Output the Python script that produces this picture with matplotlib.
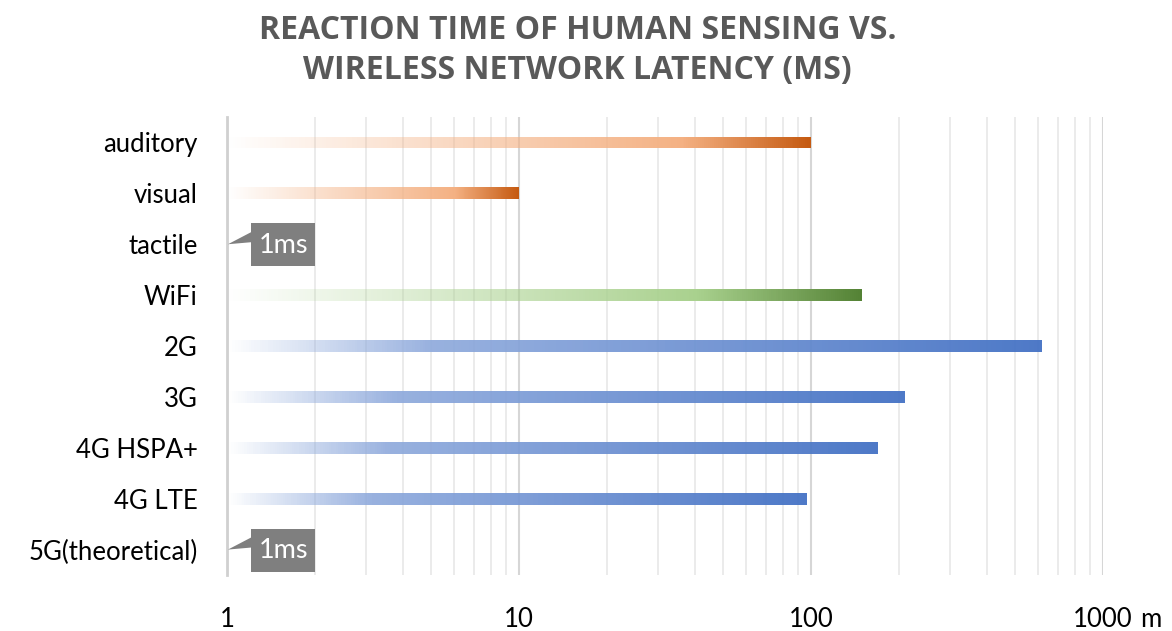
import numpy as np
import matplotlib
matplotlib.use("Agg")
import matplotlib.pyplot as plt
import matplotlib.transforms as mtransforms
from matplotlib.colors import LinearSegmentedColormap, to_rgba
from matplotlib.patches import Polygon, Rectangle
from matplotlib.ticker import LogLocator, NullFormatter

# ---- data -------------------------------------------------------------
categories = ["auditory", "visual", "tactile", "WiFi", "2G", "3G",
              "4G HSPA+", "4G LTE", "5G(theoretical)"]
latency_ms = [100, 10, 1, 150, 620, 210, 170, 97, 1]
groups = ["human", "human", "human", "wifi", "cellular", "cellular",
          "cellular", "cellular", "cellular"]
x_ticks = [1, 10, 100, 1000]
x_tick_labels = ["1", "10", "100", "1000"]
x_unit = "m"
title_lines = ["REACTION TIME OF HUMAN SENSING VS.",
               "WIRELESS NETWORK LATENCY (MS)"]

LABEL_FONT = ["Lato", "DejaVu Sans"]
TITLE_FONT = ["Open Sans", "DejaVu Sans"]


def ramp(stops):
    return LinearSegmentedColormap.from_list(
        "ramp", [(p, to_rgba(c, a)) for p, c, a in stops], N=512)


# gradient fills, running along each bar from its base to its tip
fills = {
    "human": ramp([(0.0, "#f4b183", 0.0), (0.78, "#f4b183", 1.0),
                   (1.0, "#c55a11", 1.0)]),
    "wifi": ramp([(0.0, "#a9d18e", 0.0), (0.74, "#a9d18e", 1.0),
                  (1.0, "#548235", 1.0)]),
    "cellular": ramp([(0.0, "#8faadc", 0.0), (0.25, "#8faadc", 0.92),
                      (1.0, "#4472c4", 0.95)]),
}

fig = plt.figure(figsize=(11.72, 6.31), dpi=100)
ax = fig.add_axes([227 / 1172, 1 - 575 / 631, (1103 - 227) / 1172, (575 - 117) / 631])

ax.set_xscale("log")
ax.set_xlim(x_ticks[0], x_ticks[-1])
ax.set_ylim(len(categories) - 0.5, -0.5)

bar_h = 0.23
n_steps = 300
for i, (v, g) in enumerate(zip(latency_ms, groups)):
    if v <= x_ticks[0]:
        continue
    xe = np.logspace(0, np.log10(v), n_steps + 1)
    ye = np.array([i - bar_h / 2, i + bar_h / 2])
    c = np.linspace(0, 1, n_steps)[None, :]
    ax.pcolormesh(xe, ye, c, cmap=fills[g], vmin=0, vmax=1, shading="flat",
                  edgecolors="none", antialiased=False, zorder=2)

# callout labels for values that sit on the axis origin
for i, v in enumerate(latency_ms):
    if v > x_ticks[0]:
        continue
    anchor = mtransforms.ScaledTranslation(v, i, ax.transData)
    tr = fig.dpi_scale_trans + anchor
    px = 1 / 100.0
    ax.add_patch(Polygon([(1 * px, 0), (24 * px, 12 * px), (24 * px, 2 * px)],
                         closed=True, transform=tr, fc="#7f7f7f", ec="none",
                         zorder=4, clip_on=False))
    ax.add_patch(Rectangle((24 * px, -22 * px), 64 * px, 43 * px, transform=tr,
                           fc="#7f7f7f", ec="none", zorder=4, clip_on=False))
    ax.text(57 * px, -1 * px, f"{v:g}ms", transform=tr, ha="center",
            va="center", color="white", fontsize=19.5, family=LABEL_FONT,
            zorder=5)

# axes styling
ax.set_xticks(x_ticks)
ax.set_xticklabels(x_tick_labels)
ax.xaxis.set_minor_locator(LogLocator(base=10, subs=np.arange(2, 10)))
ax.xaxis.set_minor_formatter(NullFormatter())
ax.set_yticks(range(len(categories)))
ax.set_yticklabels(categories)
ax.tick_params(axis="both", which="both", length=0)
ax.tick_params(axis="x", pad=23, labelsize=18.5, labelcolor="#000000")
ax.tick_params(axis="y", pad=21, labelsize=18.5, labelcolor="#000000")
for lab in ax.get_xticklabels() + ax.get_yticklabels():
    lab.set_family(LABEL_FONT)

ax.set_axisbelow(True)
ax.grid(which="minor", axis="x", color="#e9e9e9", lw=1.3)
ax.grid(which="major", axis="x", color="#d6d6d6", lw=1.5)
ax.grid(False, axis="y")
for side in ["top", "right", "bottom"]:
    ax.spines[side].set_visible(False)
ax.spines["left"].set_color("#d0d0d0")
ax.spines["left"].set_linewidth(2.0)

# unit suffix after the last tick label
ax.annotate(x_unit, xy=(x_ticks[-1], 0), xycoords=("data", "axes fraction"),
            xytext=(37, -32), textcoords="offset pixels", ha="left", va="top",
            fontsize=18.5, family=LABEL_FONT, color="#000000")

fig.text(0.493, 1 - 39 / 631, title_lines[0], ha="center", va="baseline",
         fontsize=23, fontweight="bold", color="#595959", family=TITLE_FONT)
fig.text(0.493, 1 - 79 / 631, title_lines[1], ha="center", va="baseline",
         fontsize=23, fontweight="bold", color="#595959", family=TITLE_FONT)

fig.savefig("out.png", dpi=100, facecolor="white")
